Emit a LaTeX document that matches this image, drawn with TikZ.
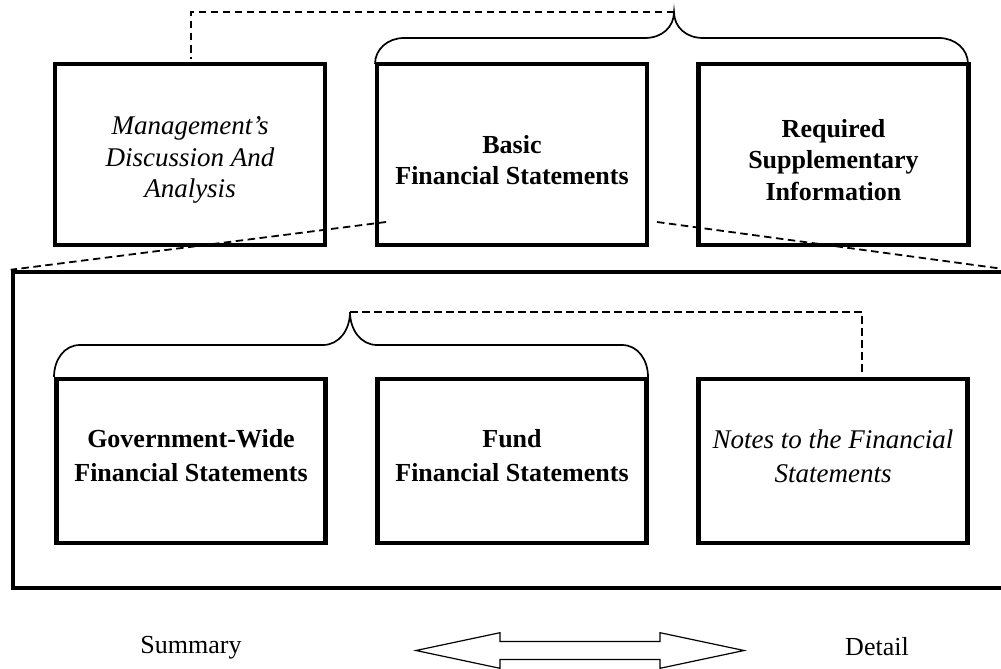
\documentclass[tikz,border=0pt]{standalone}
\usepackage{fontspec}
\setmainfont{Liberation Serif}
\begin{document}
\begin{tikzpicture}[x=1pt,y=-1pt,
  box/.style={draw, line width=4.5pt, inner sep=0pt, minimum width=#1},
  topbox/.style={box=270pt, minimum height=181pt},
  lowbox/.style={box=269pt, minimum height=164pt},
  txt/.style={inner sep=0pt, align=center},
  ittop/.style={txt, font=\fontsize{27}{31.5}\selectfont\itshape},
  bftop/.style={txt, font=\fontsize{26}{31.5}\selectfont\bfseries},
  itlow/.style={txt, font=\fontsize{27}{34}\selectfont\itshape},
  bflow/.style={txt, font=\fontsize{26}{34}\selectfont\bfseries},
  brace/.style={draw, line width=1.7pt},
  link/.style={draw, line width=1.8pt, dash pattern=on 7.5pt off 4.5pt},
  frame/.style={draw, line width=4.5pt, inner sep=0pt, minimum width=994pt, minimum height=316pt},
  lbl/.style={inner sep=0pt, font=\fontsize{26}{31.5}\selectfont},
  bigarrow/.style={draw, line width=1.2pt, line join=miter}]
\useasboundingbox (0,0) rectangle (1001,669);

% top row
\node[topbox] (mda) at (190,154.5) {};
\node[topbox] (bfs) at (512,154.5) {};
\node[topbox] (rsi) at (833.5,154.5) {};
\node[ittop] (mdat) at (190,160) {Management’s\\Discussion And\\Analysis};
\node[bftop] (bfst) at (512,160) {Basic\\Financial Statements};
\node[bftop] (rsit) at (833.5,160) {Required\\Supplementary\\Information};

% top brace
\coordinate (ttip) at (674,12);
\coordinate (tmda) at (191,59);
\draw[brace] (375,64) .. controls (375,49) and (388,38) .. (404,38) -- (645,38)
  .. controls (662,38) and (674,27) .. (ttip) .. controls (674,27) and (686,38) .. (703,38)
  -- (939,38) .. controls (955,38) and (968,49) .. (968,64);
\draw[link] (ttip) -| (tmda);

% frame
\node[frame] (frm) at (510,430) {};
\coordinate (dl) at (386,222);
\coordinate (dr) at (657,222);
\draw[link] (dl) -- (frm.north west);
\draw[link] (dr) -- (frm.north east);

% lower row
\node[lowbox] (gw) at (191,461) {};
\node[lowbox] (fund) at (512,461) {};
\node[lowbox] (notes) at (833,461) {};
\node[bflow] (gwt) at (191,456) {Government-Wide\\Financial Statements};
\node[bflow] (fundt) at (512,456) {Fund\\Financial Statements};
\node[itlow] (notest) at (833,456) {Notes to the Financial\\Statements};

% lower brace
\coordinate (ltip) at (350,312);
\coordinate (lnotes) at (862,375);
\draw[brace] (54,377) .. controls (54,360) and (64,345) .. (80,345) -- (323,345)
  .. controls (339,345) and (350,330) .. (ltip) .. controls (350,330) and (361,345) .. (377,345)
  -- (622,345) .. controls (638,345) and (648,360) .. (648,377);
\draw[link] (ltip) -| (lnotes);

% bottom
\node[lbl] (sum) at (191,648) {Summary};
\node[lbl] (det) at (877,647) {Detail};
\draw[bigarrow] (416,650.5) -- (500,632.7) -- (500,641.5) -- (660,641.5) -- (660,632.7)
  -- (744,650.5) -- (660,668.3) -- (660,659.5) -- (500,659.5) -- (500,668.3) -- cycle;
\end{tikzpicture}
\end{document}
